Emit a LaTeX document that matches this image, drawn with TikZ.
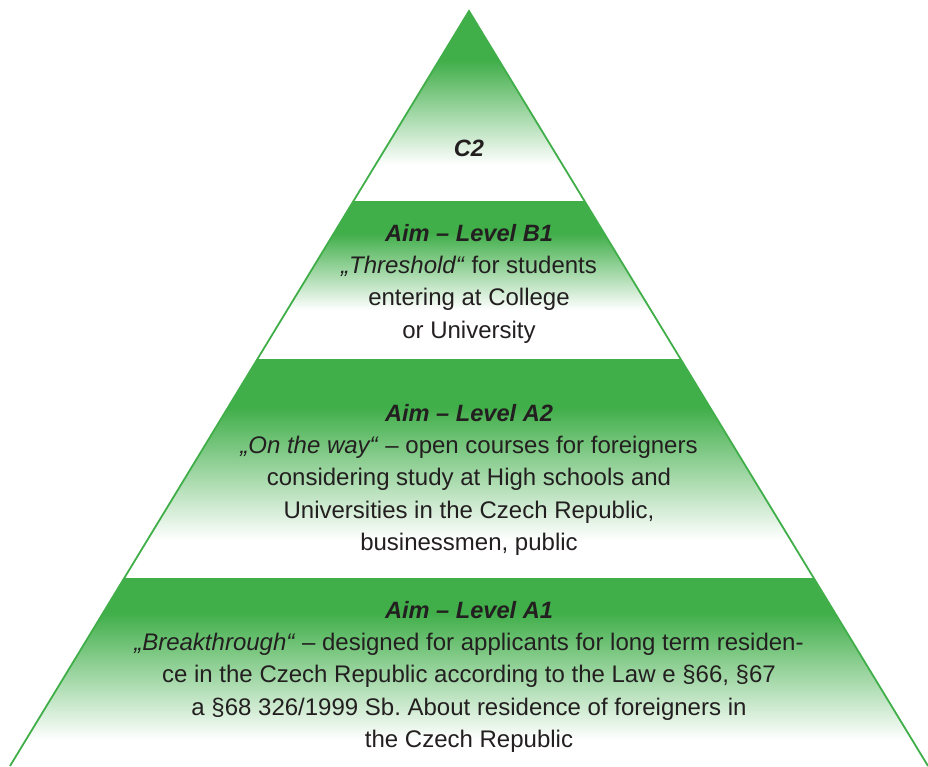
\documentclass[tikz,border=0pt]{standalone}
\usepackage{fontspec}
\setmainfont{Liberation Sans}
\usetikzlibrary{calc,positioning}

\definecolor{pyrgreen}{RGB}{64,174,73}
\definecolor{pyrtext}{RGB}{35,31,32}

\begin{document}
\begin{tikzpicture}[x=1pt,y=-1pt]
    % `title' is the bold heading of each level.
    % `body' is the text below a heading.
    % `outline' is used for the two sides of the pyramid.
    \tikzstyle{title} = [font=\fontsize{23.6}{30}\selectfont\bfseries\itshape,text=pyrtext,inner sep=0pt]
    \tikzstyle{body} = [font=\fontsize{24}{32.5}\selectfont,text=pyrtext,align=center,inner sep=0pt]
    \tikzstyle{outline} = [draw=pyrgreen,line width=1.8pt]
    %
    \useasboundingbox (0,0) rectangle (928,766);
    \coordinate (apex) at (469,11);
    \coordinate (bl) at (10,766);
    \coordinate (br) at (928,766);
    % Fill the levels: solid green, then fade to white.
    \begin{scope}
      \clip (apex) -- (bl) -- (br) -- cycle;
      \foreach \top/\solid/\white in {11/60/165, 201/233/310, 359/407/540, 578/612/740} {
        \fill[pyrgreen] (0,\top) rectangle (928,\solid);
        \shade[top color=pyrgreen,bottom color=white] (0,\solid) rectangle (928,\white);
      }
    \end{scope}
    % Draw the sides.
    \draw[outline] (bl) -- (apex) -- (br);
    %
    \node[title] (c2) at (469,148) {C2};
    %
    \node[title] (b1) at (469,233) {Aim – Level B1};
    \node[body,below=14pt of b1] (b1text) {\textit{„Threshold“} for students\\
      entering at College\\or University};
    %
    \node[title] (a2) at (469,413) {Aim – Level A2};
    \node[body,below=14pt of a2] (a2text) {\textit{„On the way“} – open courses for foreigners\\
      considering study at High schools and\\
      Universities in the Czech Republic,\\businessmen, public};
    %
    \node[title] (a1) at (469,610) {Aim – Level A1};
    \node[body,below=14pt of a1] (a1text) {\textit{„Breakthrough“} – designed for applicants for long term residen-\\
      ce in the Czech Republic according to the Law e §66, §67\\
      a §68 326/1999 Sb.\ About residence of foreigners in\\
      the Czech Republic};
\end{tikzpicture}
\end{document}
